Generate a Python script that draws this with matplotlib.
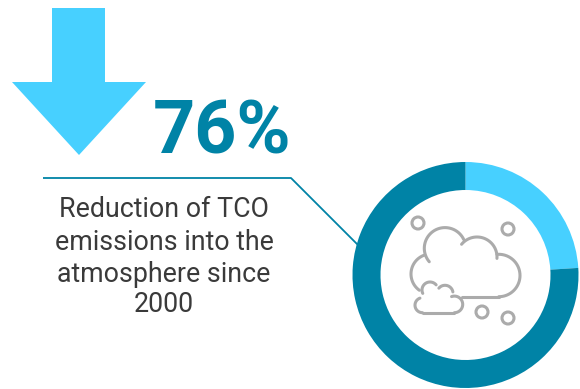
import matplotlib
matplotlib.use('Agg')
import matplotlib.pyplot as plt
import numpy as np
from matplotlib.patches import Polygon, Wedge, Circle

shares = [76, 24]
headline = "76%"
caption = ["Reduction of TCO", "emissions into the", "atmosphere since", "2000"]
caption_y = [209, 242, 274, 305]
bubbles = [(418, 223, 6), (508, 229, 6), (482, 312, 6), (508, 318, 6)]

DARK = "#0083a6"
LIGHT = "#47d0ff"
GREY = "#ababab"

plt.rcParams['font.family'] = ['Roboto', 'DejaVu Sans']

fig = plt.figure(figsize=(5.8, 3.89), dpi=100)
ax = fig.add_axes([0, 0, 1, 1])
ax.set_xlim(0, 580)
ax.set_ylim(389, 0)
ax.axis('off')

# down arrow
ax.add_patch(Polygon([(52, 8), (105, 8), (105, 82), (146, 82), (79, 155), (12, 82), (52, 82)],
                     closed=True, fc=LIGHT, ec='none'))

ax.text(222, 133, headline, color=DARK, fontsize=53, fontweight='bold', ha='center', va='center')

# leader line from the caption to the ring
ax.plot([43, 291, 358], [178, 178, 245], color=DARK, lw=1.3, solid_capstyle='butt')

for line, y in zip(caption, caption_y):
    ax.text(164, y, line, color='#3a3a3a', fontsize=19.3, ha='center', va='center')

# ring, y axis is flipped so angles run clockwise from 3 o'clock
cx, cy, r = 465.5, 275, 113
start = -90
for share, col in zip([shares[1], shares[0]], [LIGHT, DARK]):
    end = start + share * 3.6
    ax.add_patch(Wedge((cx, cy), r, start, end, width=28, fc=col, ec='none'))
    start = end


def stroke(xs, ys):
    ax.plot(xs, ys, color=GREY, lw=2.2, solid_capstyle='round', solid_joinstyle='round')


def arc(x, y, rad, a, b):
    t = np.radians(np.linspace(a, b, 40))
    stroke(x + rad * np.cos(t), y + rad * np.sin(t))


# large cloud
arc(445, 248.3, 20.7, 139.5, 335)
arc(477, 257, 20, 219.5, 364)
arc(498.8, 275.5, 21.2, 265, 450)
arc(431, 274, 20, 125.6, 251.6)
stroke([498.8, 461.5], [296.7, 296.7])

# small cloud
arc(422.5, 305.2, 7.5, 90, 250)
arc(430, 290, 8, 155, 320)
arc(445, 293.3, 8, 220, 350)
arc(454.4, 304.4, 8.3, 250, 450)
stroke([454.4, 422.5], [312.7, 312.7])

for x, y, rad in bubbles:
    ax.add_patch(Circle((x, y), rad, fc='none', ec=GREY, lw=2.2))

fig.savefig('out.png', dpi=100)
